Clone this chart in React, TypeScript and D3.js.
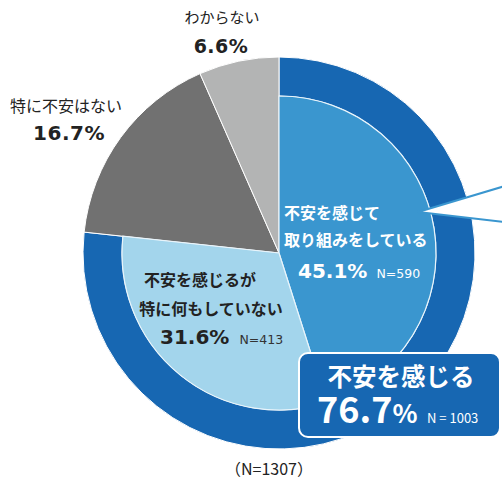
import React from 'react';
import * as d3 from 'd3';

const outerCategories = ['不安を感じる', '特に不安はない', 'わからない'];
const outerValues = [76.7, 16.7, 6.6];
const innerCategories = ['不安を感じて取り組みをしている', '不安を感じるが特に何もしていない'];
const innerValues = [45.1, 31.6];
const innerN = [590, 413];
const totalN = 1307;
const anxiousN = 1003;

const W = 502, H = 490;
const cx = 279, cy = 253;
const R = 196, r = 157;
const FONT = '"Noto Sans CJK JP", "Noto Sans", sans-serif';
const NUM = '"DejaVu Sans", "Noto Sans", sans-serif';

const outerColors = ['#1767b2', '#717171', '#b3b4b4'];
const innerColors = ['#3a96cf', '#a3d5ec'];

export default function App() {
  const total = d3.sum(outerValues);
  const outerPie = d3.pie<number>().sort(null).value((d) => d)(outerValues);
  const innerEnd = (2 * Math.PI * d3.sum(innerValues)) / total;
  const innerPie = d3.pie<number>().sort(null).value((d) => d).startAngle(0).endAngle(innerEnd)(innerValues);

  const ringArc = d3.arc<d3.PieArcDatum<number>>().innerRadius(r).outerRadius(R);
  const fullArc = d3.arc<d3.PieArcDatum<number>>().innerRadius(0).outerRadius(R);
  const innerArc = d3.arc<d3.PieArcDatum<number>>().innerRadius(0).outerRadius(r);

  return (
    <svg width={W} height={H} style={{ position: 'absolute', left: 0, top: 0, fontFamily: FONT }}>
      <rect width={W} height={H} fill="#fff" />
      <g transform={`translate(${cx},${cy})`}>
        {outerPie.map((d, i) => (
          <path key={'o' + i} d={(i === 0 ? ringArc(d) : fullArc(d)) || ''} fill={outerColors[i]} stroke="#fff" strokeWidth={1} />
        ))}
        {innerPie.map((d, i) => (
          <path key={'i' + i} d={innerArc(d) || ''} fill={innerColors[i]} stroke="#e8f4fb" strokeWidth={1.2} />
        ))}
      </g>

      {/* callout */}
      <polygon points="505,186 418,212 505,222" fill="#fff" stroke="#3a96cf" strokeWidth={2} />

      {/* outer labels */}
      <text x={222} y={23} textAnchor="middle" fontSize={15} fill="#222">{outerCategories[2]}</text>
      <text x={221} y={53} textAnchor="middle" fontSize={19} fontWeight="bold" fill="#222" fontFamily={NUM} letterSpacing={0.5}>{outerValues[2].toFixed(1)}%</text>
      <text x={10} y={112} fontSize={16} fill="#222">{outerCategories[1]}</text>
      <text x={69} y={140} textAnchor="middle" fontSize={20} fontWeight="bold" fill="#222" fontFamily={NUM} letterSpacing={0.5}>{outerValues[1].toFixed(1)}%</text>

      {/* inner labels: slice 0 */}
      <text x={284} y={219} fontSize={16} fontWeight="bold" fill="#fff">不安を感じて</text>
      <text x={284} y={246} fontSize={16} fontWeight="bold" fill="#fff">取り組みをしている</text>
      <text x={298} y={278} fontSize={20} fontWeight="bold" fill="#fff" fontFamily={NUM}>{innerValues[0].toFixed(1)}%<tspan dx={9} fontSize={12.5} fontWeight="normal">N={innerN[0]}</tspan></text>

      {/* inner labels: slice 1 */}
      <text x={200} y={286} textAnchor="middle" fontSize={16} fontWeight="bold" fill="#222">不安を感じるが</text>
      <text x={211} y={315} textAnchor="middle" fontSize={16} fontWeight="bold" fill="#222">特に何もしていない</text>
      <text x={160} y={344} fontSize={20} fontWeight="bold" fill="#222" fontFamily={NUM}>{innerValues[1].toFixed(1)}%<tspan dx={10} fontSize={12.5} fontWeight="normal" fill="#333">N={innerN[1]}</tspan></text>

      {/* summary box */}
      <rect x={299} y={353} width={201} height={84} rx={9} fill="#1767b2" stroke="#fff" strokeWidth={2} />
      <text x={401} y={386} textAnchor="middle" fontSize={24.5} fontWeight="bold" fill="#fff">{outerCategories[0]}</text>
      <text x={317} y={423} fontSize={36} fontWeight="bold" fill="#fff">{outerValues[0].toFixed(1)}<tspan fontSize={26}>%</tspan></text>
      <text x={427} y={423} fontSize={13} fill="#fff">N = {anxiousN}</text>

      <text x={269} y={475} textAnchor="middle" fontSize={16} fill="#222">（N={totalN}）</text>
    </svg>
  );
}
